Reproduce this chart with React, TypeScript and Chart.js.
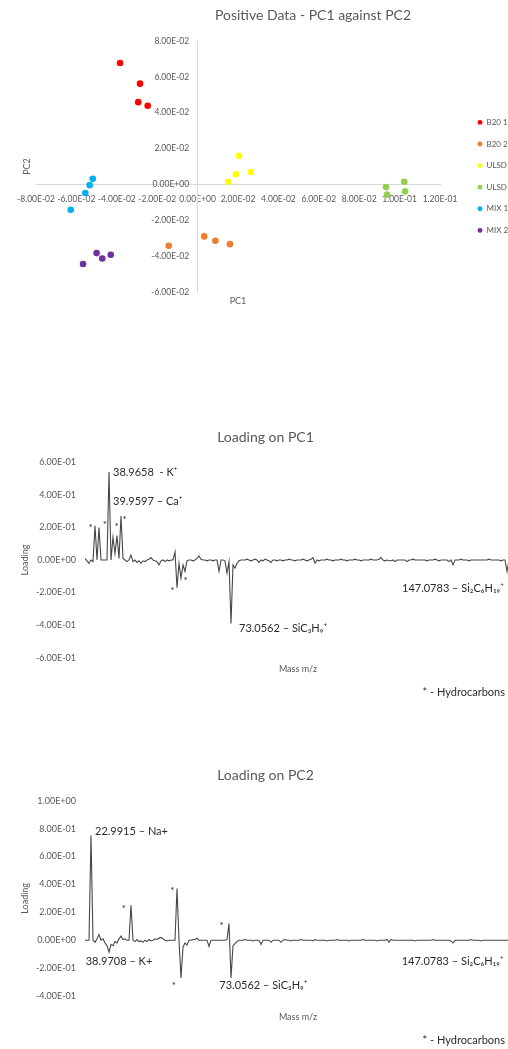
import React, { useEffect, useRef } from 'react';
import { Chart, registerables } from 'chart.js';

Chart.register(...registerables);

const FONT = 'Lato, "Open Sans", "DejaVu Sans", sans-serif';
const AXIS_INK = '#595959';
const NOTE_INK = '#2b2b2b';
const LINE_INK = '#474747';

// ---- PCA scores (positive ion data) ----
const B20_1_PC1 = [-0.0384, -0.0285, -0.0294, -0.0247];
const B20_1_PC2 = [0.0677, 0.0562, 0.0459, 0.0439];
const B20_2_PC1 = [-0.0143, 0.0033, 0.0088, 0.016];
const B20_2_PC2 = [-0.0342, -0.029, -0.0314, -0.0333];
const ULSD_1_PC1 = [0.0152, 0.019, 0.0205, 0.0263];
const ULSD_1_PC2 = [0.0015, 0.0057, 0.016, 0.0069];
const ULSD_2_PC1 = [0.0933, 0.0938, 0.1023, 0.1027];
const ULSD_2_PC2 = [-0.0015, -0.0057, 0.0015, -0.0039];
const MIX_1_PC1 = [-0.0519, -0.0534, -0.0556, -0.0628];
const MIX_1_PC2 = [0.0032, -0.0004, -0.0048, -0.0141];
const MIX_2_PC1 = [-0.05, -0.0472, -0.043, -0.0567];
const MIX_2_PC2 = [-0.0383, -0.0413, -0.0392, -0.0444];

const SAMPLE_NAMES = ['B20 1', 'B20 2', 'ULSD 1', 'ULSD 2', 'MIX 1', 'MIX 2'];
const SAMPLE_PC1 = [B20_1_PC1, B20_2_PC1, ULSD_1_PC1, ULSD_2_PC1, MIX_1_PC1, MIX_2_PC1];
const SAMPLE_PC2 = [B20_1_PC2, B20_2_PC2, ULSD_1_PC2, ULSD_2_PC2, MIX_1_PC2, MIX_2_PC2];
const SAMPLE_COLORS = ['#FF0000', '#ED7D31', '#FFFF00', '#92D050', '#00B0F0', '#7030A0'];

// ---- Loadings over the selected mass peaks (one value per peak) ----
const PC1_LOADING = [
  0.01, -0.005, -0.02, 0, -0.01, 0.21, 0, 0.2, 0, 0,
  0, 0, 0.54, 0, 0.14, 0.04, 0.15, 0.01, 0.27, 0.01,
  0, -0.01, 0, 0.03, -0.01, 0, -0.015, -0.005, -0.02, -0.005,
  -0.01, 0, 0.005, 0.015, 0, -0.005, -0.01, -0.03, -0.005, 0,
  -0.01, 0, -0.005, 0, 0, 0.05, -0.17, -0.02, -0.11, -0.03,
  -0.07, -0.005, 0, 0, -0.005, 0, 0.01, 0.025, 0.005, 0,
  0, -0.005, 0, 0, -0.005, 0, 0, -0.07, 0, 0,
  -0.005, -0.08, -0.01, -0.39, -0.03, -0.05, -0.02, -0.005, 0, 0,
  0, 0.005, 0, -0.005, 0, 0.005, 0, -0.015, 0, -0.005,
  0.005, 0, -0.005, -0.015, 0, 0, -0.005, 0, 0, -0.005,
  0, 0, 0.005, 0, 0, -0.005, 0, 0, 0, 0.005,
  0, -0.005, 0, 0.005, 0.015, -0.02, 0, -0.005, 0, 0,
  0, 0.005, 0, 0, -0.005, 0, 0, 0, 0.005, 0,
  0, -0.005, 0, 0, 0, 0.005, 0, 0, -0.005, 0,
  0, 0, 0, 0.005, 0, 0, 0, 0.005, 0.015, 0,
  -0.005, 0, -0.005, -0.005, 0, -0.01, 0, 0, 0, 0,
  0, -0.01, 0, 0, 0.005, 0, 0, 0, 0, 0,
  0, -0.005, 0, 0, 0, 0.005, 0, -0.005, 0, 0,
  0, 0, -0.01, 0, -0.03, 0, 0, 0, 0.005, 0,
  0, 0, -0.005, 0, 0, 0, 0, 0, 0, 0,
  0, 0, 0.005, 0, 0, 0, 0, 0, -0.005, 0,
  0, -0.07, 0, 0,
];

const PC2_LOADING = [
  0, 0, 0, 0.75, 0, -0.015, 0.01, 0.04, 0, 0.01,
  -0.02, -0.04, -0.085, -0.03, -0.04, -0.01, -0.02, 0.01, 0.03, 0.005,
  0.01, 0, 0, 0.25, 0, -0.01, 0.005, -0.01, -0.005, -0.015,
  0, -0.01, 0.005, -0.005, 0, 0.01, 0.005, 0.015, 0.02, 0.01,
  0, -0.005, 0, 0, 0, 0, 0.37, 0, -0.27, -0.05,
  -0.02, -0.035, 0, 0, 0.005, 0.005, 0.015, 0, 0, 0,
  0, 0, -0.045, 0, 0, 0, 0, 0, 0, 0,
  0, 0.005, 0.12, -0.27, -0.04, -0.025, -0.01, 0, 0, 0,
  0.005, 0, 0, 0, -0.005, 0, 0, 0, -0.03, 0,
  0, 0, 0, -0.015, 0, 0, 0, 0, -0.015, 0,
  0.005, 0, 0, -0.005, 0, 0, 0, 0, 0.005, 0,
  0, 0, 0, 0, -0.005, 0.005, 0, 0, 0, 0,
  0, -0.005, 0, 0, 0, 0, 0.005, 0, 0, 0,
  0, 0, -0.005, 0, 0, 0, 0, 0, 0, 0.005,
  0, 0, 0, 0, 0, 0, -0.005, 0, 0, 0,
  0, 0.005, -0.015, 0.005, 0, 0, 0, 0, 0, 0,
  0, 0, 0, 0, 0, -0.005, 0, 0, 0, 0,
  0, 0, 0, 0, 0.005, 0, 0, 0, 0, 0,
  0, 0, 0, -0.005, -0.02, 0, 0, 0, 0, 0,
  0, 0, 0, 0.005, 0, 0, 0, 0, -0.005, 0,
  0, 0, 0, 0, 0, 0, 0, 0, 0, 0,
  0, 0, 0, 0,
];

// peak numbers along the mass axis
const PEAK_NUMBERS = PC1_LOADING.map((_, i) => String(i + 1));

// peak labels: [text, peak position, loading]
const PC1_LABELS: [string, number, number][] = [
  ['38.9658  - K\u207A', 14, 0.536],
  ['39.9597 \u2013 Ca\u207A', 14, 0.358],
  ['73.0562 \u2013 SiC\u2083H\u2089\u207A', 77, -0.423],
  ['147.0783 \u2013 Si\u2082C\u2086H\u2081\u2089\u207A', 158.5, -0.174],
];
const PC1_HYDROCARBONS: [number, number][] = [
  [2.85, 0.209], [10, 0.229], [15.85, 0.215], [19.85, 0.26], [43.65, -0.174], [50.35, -0.112],
];
const PC2_LABELS: [string, number, number][] = [
  ['22.9915 \u2013 Na+', 5, 0.777],
  ['38.9708 \u2013 K+', 0.35, -0.151],
  ['73.0562 \u2013 SiC\u2083H\u2089\u207A', 67.15, -0.325],
  ['147.0783 \u2013 Si\u2082C\u2086H\u2081\u2089\u207A', 158.35, -0.151],
];
const PC2_HYDROCARBONS: [number, number][] = [
  [19.5, 0.244], [43.65, 0.368], [68.35, 0.12], [44.5, -0.31],
];
const FOOTNOTE = '* - Hydrocarbons';

function sci(value: number | string): string {
  let v = Number(value);
  if (Math.abs(v) < 1e-10) v = 0;
  const [m, e] = v.toExponential(2).split('e');
  const n = parseInt(e, 10);
  return `${m}E${n < 0 ? '-' : '+'}${String(Math.abs(n)).padStart(2, '0')}`;
}

const tickFont = { family: FONT, size: 9 };
const scoreTickFont = { family: FONT, size: 8.5 };

// Draws peak labels, hydrocarbon asterisks and the footnote from data coordinates
const peakNotes = {
  id: 'peakNotes',
  afterDatasetsDraw(chart: any, _args: any, opts: any) {
    const { ctx } = chart;
    const xs = chart.scales.x;
    const ys = chart.scales.y;
    ctx.save();
    ctx.fillStyle = NOTE_INK;
    ctx.font = `11px ${FONT}`;
    ctx.textAlign = 'left';
    ctx.textBaseline = 'middle';
    for (const [text, at, v] of opts.labels) {
      ctx.fillText(text, xs.getPixelForValue(at), ys.getPixelForValue(v));
    }
    ctx.font = `10px ${FONT}`;
    ctx.textAlign = 'center';
    ctx.textBaseline = 'alphabetic';
    for (const [at, v] of opts.stars) {
      ctx.fillText('*', xs.getPixelForValue(at), ys.getPixelForValue(v) + 5.5);
    }
    ctx.font = `11px ${FONT}`;
    ctx.textAlign = 'right';
    ctx.textBaseline = 'middle';
    const [at, v] = opts.footnoteAt;
    ctx.fillText(FOOTNOTE, xs.getPixelForValue(at), ys.getPixelForValue(v));
    ctx.restore();
  },
};

// Moves the legend block down after layout so the list sits lower beside the plot
const legendNudge = {
  id: 'legendNudge',
  afterLayout(chart: any, _args: any, opts: any) {
    const lg = chart.legend;
    if (!lg) return;
    lg.top += opts.dy;
    lg.bottom += opts.dy;
  },
};

function hiddenScale(axis: 'x' | 'y', position: string, extra: any = {}) {
  return {
    type: 'linear',
    axis,
    position,
    display: true,
    ticks: { display: false },
    grid: { display: false, drawTicks: false },
    border: { display: false },
    ...extra,
  };
}

function scatterConfig(): any {
  return {
    type: 'scatter',
    data: {
      datasets: SAMPLE_NAMES.map((name, k) => ({
        label: name,
        data: SAMPLE_PC1[k].map((x, j) => ({ x, y: SAMPLE_PC2[k][j] })),
        backgroundColor: SAMPLE_COLORS[k],
        borderColor: SAMPLE_COLORS[k],
        borderWidth: 0,
        pointRadius: 3.3,
        pointStyle: 'circle',
      })),
    },
    plugins: [legendNudge],
    options: {
      responsive: false,
      animation: false,
      events: [],
      layout: { padding: { left: 17.2, right: 17.2, top: 0, bottom: 9.2 } },
      plugins: {
        tooltip: { enabled: false },
        title: {
          display: true,
          text: 'Positive Data - PC1 against PC2',
          color: AXIS_INK,
          font: { family: FONT, size: 14, weight: 'normal' },
          padding: { top: 6.6, bottom: 17.6 },
        },
        legend: {
          display: true,
          position: 'right',
          align: 'center',
          maxWidth: 44,
          labels: {
            usePointStyle: true,
            pointStyle: 'circle',
            boxWidth: 5,
            boxHeight: 3.5,
            padding: 13.6,
            color: AXIS_INK,
            font: { family: FONT, size: 8 },
          },
        },
        legendNudge: { dy: 21 },
      },
      scales: {
        x: {
          type: 'linear',
          position: { y: 0 },
          min: -0.08,
          max: 0.12,
          ticks: {
            stepSize: 0.02,
            autoSkip: false,
            maxRotation: 0,
            minRotation: 0,
            padding: 10,
            color: AXIS_INK,
            font: scoreTickFont,
            callback: (v: number) => sci(v),
          },
          grid: { display: false, drawTicks: false },
          border: { display: true, color: '#d9d9d9', width: 1 },
        },
        y: {
          type: 'linear',
          position: { x: 0 },
          min: -0.06,
          max: 0.08,
          ticks: {
            stepSize: 0.02,
            autoSkip: false,
            color: AXIS_INK,
            font: scoreTickFont,
            // two en spaces keep the labels clear of the crossing axis line
            callback: (v: number) => sci(v) + '\u2002\u2002',
          },
          grid: { display: false, drawTicks: false },
          border: { display: true, color: '#d9d9d9', width: 1 },
        },
        pc1Title: hiddenScale('x', 'bottom', {
          title: { display: true, text: 'PC1', color: AXIS_INK, font: tickFont, padding: 4 },
        }),
        pc2Title: hiddenScale('y', 'left', {
          title: { display: true, text: 'PC2', color: AXIS_INK, font: tickFont, padding: 4 },
        }),
        legendGap: hiddenScale('y', 'right', { weight: 0, afterFit: (s: any) => { s.width = 23.9; } }),
        outerGap: hiddenScale('y', 'right', { weight: 2000, afterFit: (s: any) => { s.width = 100.9; } }),
      },
    },
  };
}

function loadingConfig(p: {
  title: string;
  values: number[];
  min: number;
  max: number;
  titlePad: { top: number; bottom: number };
  massPadTop: number;
  bottomPad: number;
  labels: [string, number, number][];
  stars: [number, number][];
  footnoteAt: [number, number];
}): any {
  return {
    type: 'line',
    data: {
      labels: PEAK_NUMBERS,
      datasets: [
        {
          data: p.values,
          borderColor: LINE_INK,
          borderWidth: 1.1,
          pointRadius: 0,
          tension: 0,
          fill: false,
        },
      ],
    },
    plugins: [peakNotes],
    options: {
      responsive: false,
      animation: false,
      events: [],
      layout: { padding: { left: 20, right: 19, top: 0, bottom: p.bottomPad } },
      plugins: {
        tooltip: { enabled: false },
        legend: { display: false },
        title: {
          display: true,
          text: p.title,
          color: AXIS_INK,
          font: { family: FONT, size: 14, weight: 'normal' },
          padding: p.titlePad,
        },
        peakNotes: { labels: p.labels, stars: p.stars, footnoteAt: p.footnoteAt },
      },
      scales: {
        x: {
          type: 'category',
          offset: false,
          ticks: { display: false },
          grid: { display: false, drawTicks: false },
          border: { display: false },
          title: {
            display: true,
            text: 'Mass m/z',
            color: AXIS_INK,
            font: tickFont,
            padding: { top: p.massPadTop, bottom: 4 },
          },
        },
        y: {
          type: 'linear',
          min: p.min,
          max: p.max,
          ticks: {
            stepSize: 0.2,
            padding: 9,
            color: AXIS_INK,
            font: tickFont,
            callback: (v: number) => sci(v),
          },
          grid: { display: false, drawTicks: false },
          border: { display: false },
          title: {
            display: true,
            text: 'Loading',
            color: AXIS_INK,
            font: tickFont,
            padding: { top: 0, bottom: 4 },
          },
          afterFit: (s: any) => { s.width = 65; },
        },
      },
    },
  };
}

function ChartCanvas(props: { make: () => any; left: number; top: number; width: number; height: number }) {
  const ref = useRef<HTMLCanvasElement>(null);
  useEffect(() => {
    const chart = new Chart(ref.current as HTMLCanvasElement, props.make());
    return () => chart.destroy();
  }, []);
  return (
    <canvas
      ref={ref}
      width={props.width}
      height={props.height}
      style={{ position: 'absolute', left: props.left, top: props.top, width: props.width, height: props.height }}
    />
  );
}

export default function App() {
  Chart.defaults.font.family = FONT;
  return (
    <div
      style={{
        position: 'absolute',
        left: 0,
        top: 0,
        width: 508,
        height: 1049,
        overflow: 'hidden',
        background: '#ffffff',
      }}
    >
      <ChartCanvas make={scatterConfig} left={0} top={0} width={626} height={320} />
      <ChartCanvas
        make={() =>
          loadingConfig({
            title: 'Loading on PC1',
            values: PC1_LOADING,
            min: -0.6,
            max: 0.6,
            titlePad: { top: 8.6, bottom: 16.9 },
            massPadTop: 5.9,
            bottomPad: 26.6,
            labels: PC1_LABELS,
            stars: PC1_HYDROCARBONS,
            footnoteAt: [210, -0.816],
          })
        }
        left={0}
        top={420}
        width={530}
        height={285}
      />
      <ChartCanvas
        make={() =>
          loadingConfig({
            title: 'Loading on PC2',
            values: PC2_LOADING,
            min: -0.4,
            max: 1.0,
            titlePad: { top: 7.3, bottom: 16.6 },
            massPadTop: 15.9,
            bottomPad: 22.3,
            labels: PC2_LABELS,
            stars: PC2_HYDROCARBONS,
            footnoteAt: [210, -0.719],
          })
        }
        left={0}
        top={760}
        width={530}
        height={289}
      />
    </div>
  );
}
